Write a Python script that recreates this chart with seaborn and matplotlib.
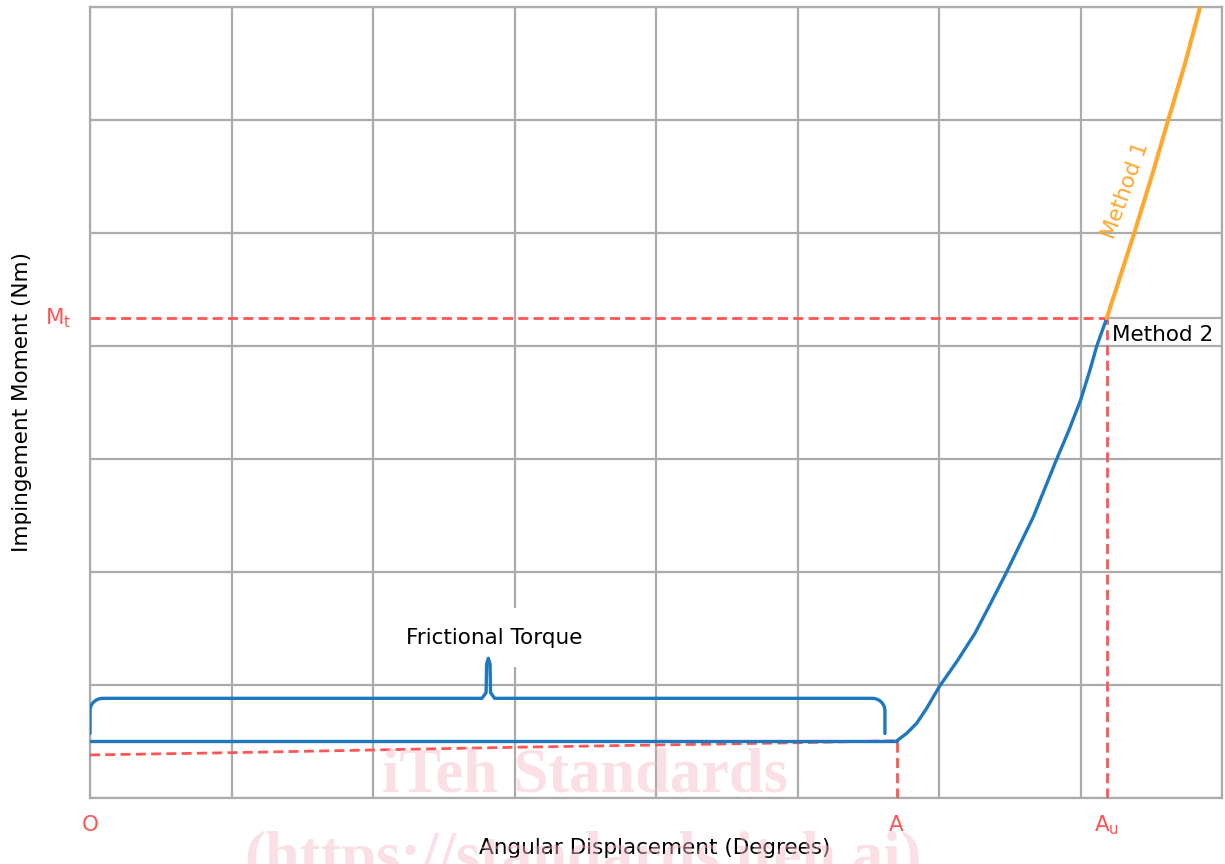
import numpy as np
import pandas as pd
import seaborn as sns
import matplotlib.pyplot as plt

# readings in grid units (x: 8 divisions, y: 7 divisions)
flat_x = [0.0, 1.0, 2.0, 3.0, 4.0, 5.0, 5.70]
flat_y = [0.504, 0.504, 0.504, 0.504, 0.504, 0.504, 0.504]

rise_x = [5.70, 5.772, 5.842, 5.913, 6.002, 6.13, 6.254, 6.365, 6.478, 6.667,
          6.832, 6.919, 7.001, 7.067, 7.115, 7.185]
rise_y = [0.504, 0.573, 0.661, 0.794, 0.985, 1.215, 1.457, 1.723, 2.0, 2.489,
          3.0, 3.257, 3.522, 3.788, 4.0, 4.245]

method1_x = [7.185, 7.38, 7.503, 7.62, 7.739, 7.845]
method1_y = [4.245, 5.0, 5.5, 6.0, 6.5, 7.0]

base_x = [0.0, 1.0, 2.0, 3.0, 4.0, 5.0, 5.70]
base_y = [0.381, 0.401, 0.425, 0.449, 0.469, 0.489, 0.507]

A_x = 5.70
Au_x = 7.185
Mt_y = 4.245

# frictional torque bracket: start, end, tip level, bar level, spike x, spike top
br_start, br_end = 0.0, 5.618
br_tip, br_bar = 0.571, 0.882
br_peak_x, br_peak_y = 2.815, 1.236

BLUE = '#1F77C0'
ORANGE = '#FFA62B'
RED = '#FF5555'
GRID = '#ABABAB'

sns.set_style('white')
plt.rcParams['font.family'] = ['DejaVu Sans']
plt.rcParams['mathtext.fontset'] = 'dejavusans'
plt.rcParams['text.color'] = 'black'

fig = plt.figure(figsize=(12.25, 8.64), dpi=100)
ax = fig.add_axes([90 / 1225, 1 - 798 / 864, 1132 / 1225, 791 / 864])
ax.set_xlim(0, 8)
ax.set_ylim(0, 7)
ax.set_xticks(np.arange(0, 9))
ax.set_yticks(np.arange(0, 8))
ax.tick_params(length=0, labelbottom=False, labelleft=False)
ax.grid(True, color=GRID, linewidth=1.6)
for s in ax.spines.values():
    s.set_color(GRID)
    s.set_linewidth(1.6)

# red dashed reference lines
dash = dict(color=RED, linewidth=2.0, linestyle=(0, (3.6, 1.9)),
            estimator=None, sort=False, zorder=3)
sns.lineplot(x=base_x, y=base_y, ax=ax, **dash)
sns.lineplot(x=[A_x, A_x], y=[0, base_y[-1]], ax=ax, **dash)
sns.lineplot(x=[Au_x, Au_x], y=[0, Mt_y], ax=ax, **dash)
sns.lineplot(x=[0, Au_x], y=[Mt_y, Mt_y], ax=ax, **dash)
ax.plot([Au_x, 8], [Mt_y, Mt_y], color=GRID, linewidth=1.6, zorder=1)

# curves
solid = dict(estimator=None, sort=False, zorder=4)
sns.lineplot(x=flat_x, y=flat_y, ax=ax, color=BLUE, linewidth=2.4, **solid)
sns.lineplot(x=rise_x, y=rise_y, ax=ax, color=BLUE, linewidth=2.4, **solid)
sns.lineplot(x=method1_x, y=method1_y, ax=ax, color=ORANGE, linewidth=2.9, **solid)

# bracket path
rx, ry = 0.09, 0.11
t = np.linspace(0, np.pi / 2, 12)
left = np.c_[br_start + rx - rx * np.cos(t), br_bar - ry + ry * np.sin(t)]
right = np.c_[br_end - rx + rx * np.sin(t), br_bar - ry + ry * np.cos(t)]
sw = 0.045
spike = np.array([
    [br_peak_x - sw, br_bar], [br_peak_x - sw * 0.35, br_bar + 0.05],
    [br_peak_x - 0.012, br_peak_y - 0.05], [br_peak_x, br_peak_y],
    [br_peak_x + 0.012, br_peak_y - 0.05], [br_peak_x + sw * 0.35, br_bar + 0.05],
    [br_peak_x + sw, br_bar]])
bx = np.r_[br_start, left[:, 0], spike[:, 0], right[:, 0], br_end]
by = np.r_[br_tip, left[:, 1], spike[:, 1], right[:, 1], br_tip]
sns.lineplot(x=bx, y=by, ax=ax, color=BLUE, linewidth=2.4,
             estimator=None, sort=False, zorder=6)

ax.text(2.855, 1.42, 'Frictional Torque', ha='center', va='center', fontsize=15.5,
        zorder=5, bbox=dict(fc='white', ec='none', boxstyle='square,pad=0.9'))
ax.text(7.22, 4.1, 'Method 2', ha='left', va='center', fontsize=15.5, zorder=6)
ax.text(7.318, 5.38, 'Method 1', ha='center', va='center', fontsize=15.5,
        color=ORANGE, rotation=70, rotation_mode='anchor', zorder=6)

# red point labels
lbl = dict(color=RED, fontsize=15.5, ha='center', va='center')
ax.text(0, -0.24, 'O', **lbl)
ax.text(A_x, -0.24, 'A', **lbl)
ax.text(Au_x, -0.24, r'A$_\mathrm{u}$', **lbl)
ax.text(-0.13, Mt_y, r'M$_\mathrm{t}$', color=RED, fontsize=15.5, ha='right', va='center')

fig.text(655 / 1225, 1 - 848 / 864, 'Angular Displacement (Degrees)', ha='center', va='center', fontsize=15.5)
fig.text(22 / 1225, 1 - 402 / 864, 'Impingement Moment (Nm)', ha='center', va='center',
         fontsize=15.5, rotation=90)

# watermark
wm = dict(family='Liberation Serif', weight='bold', fontsize=45, color='#F4B8C6',
          alpha=0.45, ha='center')
fig.text(585 / 1225, 1 - 792 / 864, 'iTeh Standards', va='baseline', **wm)
fig.text(583 / 1225, 1 - 875 / 864, '(https://standards.iteh.ai)', va='baseline', **wm)

fig.savefig('out.png', dpi=100)
